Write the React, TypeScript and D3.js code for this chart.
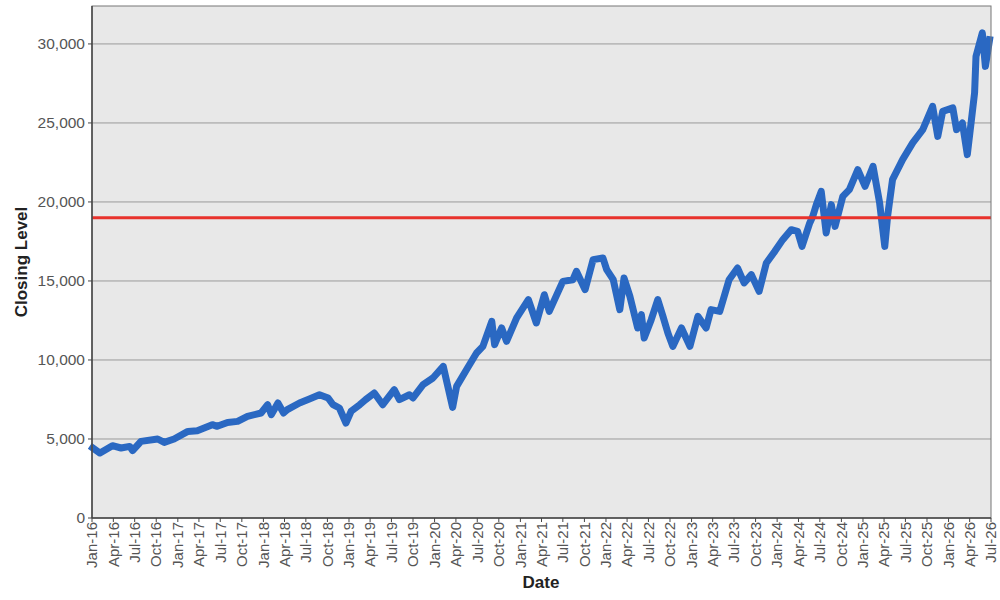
import * as d3 from "d3";
import { ReactElement } from "react";

// closing levels
const dates: string[] = [
  "2016-01-04", "2016-02-04", "2016-03-28", "2016-05-04", "2016-06-10", "2016-06-22",
  "2016-07-28", "2016-10-07", "2016-11-04", "2016-12-16", "2017-02-13", "2017-03-25",
  "2017-05-28", "2017-06-18", "2017-08-01", "2017-09-13", "2017-10-25", "2017-12-22",
  "2018-01-19", "2018-02-04", "2018-03-04", "2018-03-28", "2018-04-13", "2018-06-04",
  "2018-07-16", "2018-08-28", "2018-10-04", "2018-10-25", "2018-11-21", "2018-12-19",
  "2019-01-10", "2019-02-16", "2019-03-13", "2019-04-19", "2019-05-25", "2019-07-13",
  "2019-08-04", "2019-09-16", "2019-10-01", "2019-11-13", "2019-12-25", "2020-02-07",
  "2020-03-18", "2020-04-04", "2020-05-16", "2020-06-28", "2020-07-25", "2020-09-01",
  "2020-09-13", "2020-10-13", "2020-11-03", "2020-12-16", "2021-02-04", "2021-03-10",
  "2021-04-13", "2021-05-04", "2021-07-01", "2021-08-13", "2021-08-28", "2021-10-04",
  "2021-11-07", "2021-12-19", "2022-01-04", "2022-02-01", "2022-03-01", "2022-03-19",
  "2022-04-13", "2022-05-04", "2022-05-16", "2022-06-01", "2022-06-13", "2022-07-13",
  "2022-08-10", "2022-09-01", "2022-09-22", "2022-10-13", "2022-11-19", "2022-12-25",
  "2023-01-28", "2023-03-04", "2023-03-25", "2023-05-01", "2023-06-10", "2023-07-16",
  "2023-08-13", "2023-09-13", "2023-10-16", "2023-11-16", "2023-12-22", "2024-01-25",
  "2024-03-01", "2024-03-28", "2024-04-16", "2024-05-19", "2024-06-01", "2024-06-16",
  "2024-07-07", "2024-07-28", "2024-08-19", "2024-09-04", "2024-10-07", "2024-11-04",
  "2024-12-10", "2025-01-10", "2025-02-13", "2025-03-13", "2025-04-04", "2025-04-16",
  "2025-05-07", "2025-06-19", "2025-08-01", "2025-09-13", "2025-10-25", "2025-11-16",
  "2025-12-07", "2026-01-19", "2026-02-04", "2026-03-01", "2026-03-22", "2026-04-07",
  "2026-04-22", "2026-04-28", "2026-05-25", "2026-06-07", "2026-06-25",
];

const closes: number[] = [
  4430, 4110, 4575, 4430, 4530, 4260,
  4850, 5000, 4785, 5000, 5480, 5525,
  5905, 5800, 6050, 6115, 6430, 6645,
  7170, 6540, 7280, 6645, 6855, 7280,
  7530, 7800, 7595, 7170, 6960, 6010,
  6750, 7170, 7490, 7910, 7170, 8120,
  7490, 7800, 7595, 8435, 8860, 9595,
  7000, 8330, 9385, 10440, 10860, 12440,
  10970, 12025, 11180, 12660, 13815, 12340,
  14130, 13075, 14975, 15080, 15610, 14450,
  16350, 16455, 15715, 15080, 13185, 15190,
  14025, 12760, 12025, 12870, 11390, 12550,
  13815, 12760, 11710, 10860, 12025, 10860,
  12760, 12025, 13185, 13075, 15080, 15820,
  14875, 15400, 14340, 16140, 16875, 17615,
  18245, 18140, 17190, 18670, 19090, 19830,
  20670, 18040, 19830, 18455, 20355, 20780,
  22045, 20990, 22255, 19935, 17190, 19090,
  21410, 22675, 23735, 24575, 26050, 24150,
  25735, 25950, 24575, 25000, 22995, 25000,
  26900, 29215, 30695, 28580, 30270,
];

const yTicks: number[] = [0, 5000, 10000, 15000, 20000, 25000, 30000];
const referenceLevel = 19000;

const W = 1000;
const H = 600;
const left = 92;
const right = 991;
const top = 6;
const bottom = 518;

const App = (): ReactElement => {
  const parse = d3.utcParse("%Y-%m-%d");
  const data = dates.map((d, i) => ({ date: parse(d)!, value: closes[i] }));

  const x = d3.scaleUtc()
    .domain([new Date(Date.UTC(2016, 0, 1)), new Date(Date.UTC(2026, 6, 1))])
    .range([left, right]);

  const y = d3.scaleLinear()
    .domain([0, 32400])
    .range([bottom, top]);

  const xTicks = d3.utcMonth.every(3)!.range(
    new Date(Date.UTC(2016, 0, 1)),
    new Date(Date.UTC(2026, 6, 2))
  );
  const fmtX = d3.utcFormat("%b-%y");
  const fmtY = d3.format(",");

  const line = d3.line<{ date: Date; value: number }>()
    .x((d) => x(d.date))
    .y((d) => y(d.value));

  const font = "Arial, 'Liberation Sans', sans-serif";

  return (
    <svg width={W} height={H} style={{ position: "absolute", left: 0, top: 0 }} fontFamily={font}>
      <rect x={0} y={0} width={W} height={H} fill="#ffffff" />
      <rect x={left} y={top} width={right - left} height={bottom - top} fill="#e8e8e8" />

      {/* grid */}
      {yTicks.filter((t) => t > 0).map((t) => (
        <line key={t} x1={left} x2={right} y1={y(t)} y2={y(t)} stroke="#9a9a9a" strokeWidth={1} />
      ))}

      {/* series */}
      <path d={line(data)!} fill="none" stroke="#2a68c2" strokeWidth={7} strokeLinejoin="round" strokeLinecap="square" />

      {/* reference level */}
      <line x1={left} x2={right} y1={y(referenceLevel)} y2={y(referenceLevel)} stroke="#e8322c" strokeWidth={3} />

      {/* frame */}
      <rect x={left} y={top} width={right - left} height={bottom - top} fill="none" stroke="#777" strokeWidth={1} />
      <line x1={left} x2={left} y1={top} y2={bottom} stroke="#444" strokeWidth={1.5} />
      <line x1={left} x2={right} y1={bottom} y2={bottom} stroke="#444" strokeWidth={1.5} />

      {/* y axis */}
      {yTicks.map((t) => (
        <g key={t} transform={`translate(${left},${y(t)})`}>
          <line x1={-4} x2={0} stroke="#444" />
          <text x={-7} dy="0.35em" textAnchor="end" fontSize={15.5} fill="#555">{fmtY(t)}</text>
        </g>
      ))}

      {/* x axis */}
      {xTicks.map((t) => (
        <g key={t.getTime()} transform={`translate(${x(t)},${bottom})`}>
          <line y1={0} y2={4} stroke="#444" />
          <text transform="rotate(-90)" x={-4} dy="0.35em" textAnchor="end" fontSize={15} fill="#555">{fmtX(t)}</text>
        </g>
      ))}

      {/* titles */}
      <text transform={`translate(27,${(top + bottom) / 2}) rotate(-90)`} textAnchor="middle" fontSize={17} fontWeight="bold" fill="#222">Closing Level</text>
      <text x={541} y={588} textAnchor="middle" fontSize={17} fontWeight="bold" fill="#222">Date</text>
    </svg>
  );
};

export default App;
